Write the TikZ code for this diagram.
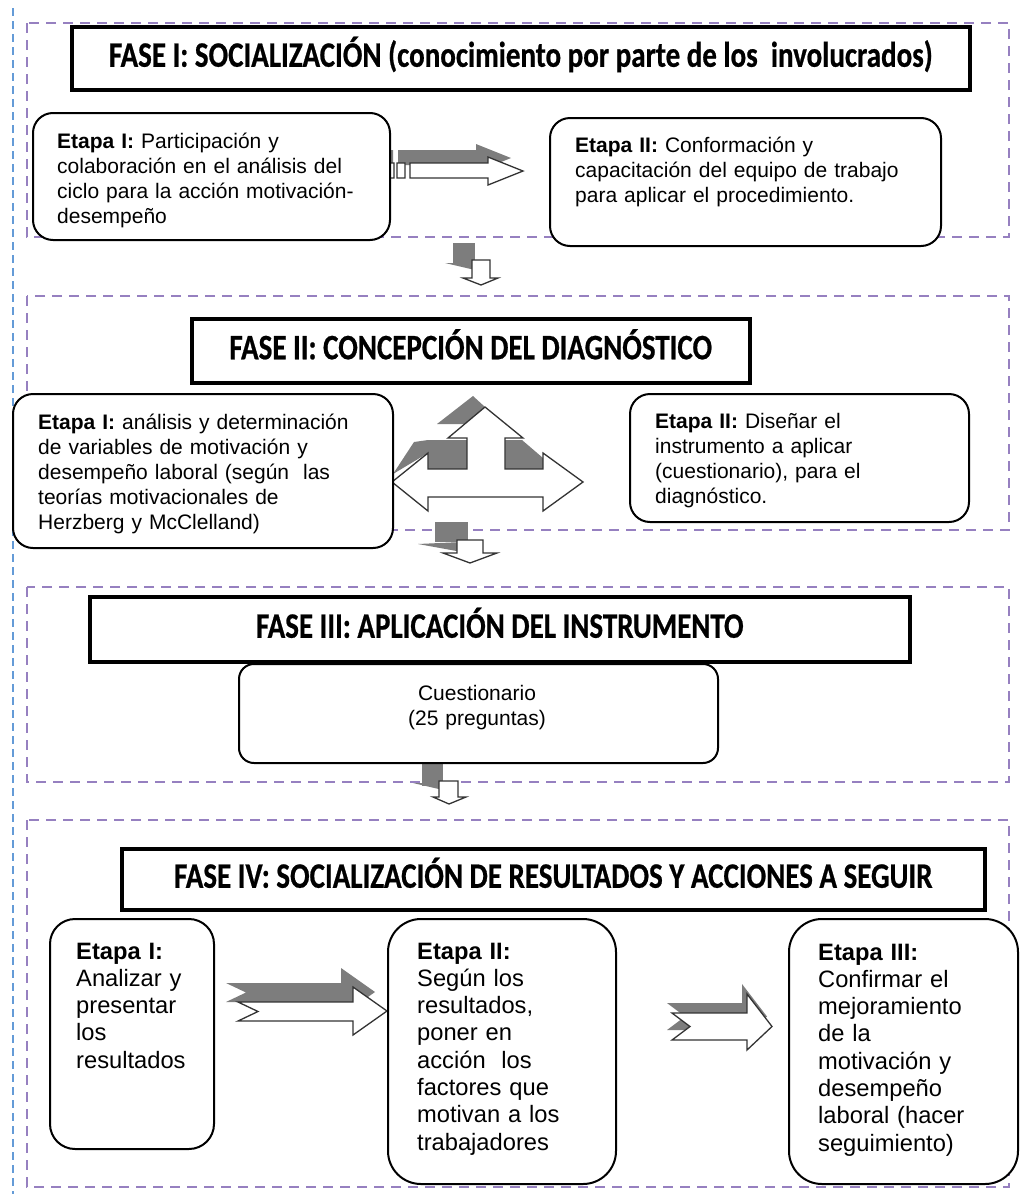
\documentclass[tikz,border=0pt]{standalone}
\usepackage{fontspec}
\setmainfont{Liberation Sans}
\newfontfamily\titlefont{Carlito}[FakeStretch=0.81,FakeBold=0.6]

\definecolor{phaseline}{RGB}{150,128,192}
\definecolor{marginline}{RGB}{100,155,215}
\definecolor{shadowgray}{RGB}{125,125,125}

\tikzset{
  % striped right arrow between the two stages of phase I
  pics/stripearrow/.style={code={
    \path[pic actions] (410,163) -- (488,163) -- (488,157) -- (523,171) -- (488,185) -- (488,178) -- (410,178) -- cycle
      (389,163) rectangle (394,178) (397,163) rectangle (405,178);
  }},
  % notched right arrows of phase IV
  pics/notcharrowA/.style={code={
    \path[pic actions] (238,1002) -- (353,1002) -- (353,987) -- (387,1011) -- (353,1035) -- (353,1021) -- (238,1021) -- (258,1011.5) -- cycle;
  }},
  pics/notcharrowB/.style={code={
    \path[pic actions] (672,1013) -- (747,1013) -- (747,994) -- (772,1026.5) -- (747,1050) -- (747,1040) -- (672,1040) -- (690,1026.5) -- cycle;
  }},
}

\begin{document}
\begin{tikzpicture}[x=1pt,y=-1pt,
  phase/.style={draw=phaseline, line width=2.5pt, dash pattern=on 10pt off 7pt},
  title/.style={draw=black, line width=3.5pt, fill=white, inner sep=0pt, anchor=north west,
    text height=22pt, text depth=5pt,
    font=\titlefont\bfseries\fontsize{35.8}{40}\selectfont},
  stage/.style={draw=black, line width=2pt, fill=white, rounded corners=20pt, inner sep=0pt, anchor=north west},
  body/.style={inner sep=0pt, anchor=base west, align=left, text width=380pt,
    font=\fontsize{21}{25}\selectfont},
  bigbody/.style={inner sep=0pt, anchor=base west, align=left, text width=220pt,
    font=\fontsize{23.7}{27.3}\selectfont},
  shadowfill/.style={fill=shadowgray, draw=none},
  arrowwhite/.style={fill=white, draw=black!80, line width=1.3pt, line join=miter},
]
\fill[white] (0,0) rectangle (1024,1194);
\useasboundingbox (0,0) rectangle (1024,1194);

% left margin line
\draw[marginline, line width=2pt, dash pattern=on 8pt off 5pt] (13,8) -- (13,1194);

% phase frames
\draw[phase] (27,23) rectangle (1009,237);
\draw[phase] (27,296) rectangle (1009,530);
\draw[phase] (27,587) rectangle (1009,782);
\draw[phase] (27,820) rectangle (1009,1187);

% ---------- block arrows ----------
% phase I: striped arrow
\pic[shadowfill] at (-12,-13) {stripearrow};
\pic[arrowwhite] at (0,0) {stripearrow};

% down arrow I -> II
\fill[shadowgray] (453,243) rectangle (475,265);
\fill[shadowgray] (445,263) -- (475,263) -- (475,270) -- cycle;
\draw[arrowwhite] (472,260) -- (490,260) -- (490,278) -- (498,278) -- (481,285) -- (463,278) -- (472,278) -- cycle;

% phase II: left-right-up arrow
\fill[shadowgray] (437,424) -- (473,396) -- (485,407) -- (465,424) -- cycle;
\fill[shadowgray] (428,440) rectangle (467,469);
\fill[shadowgray] (505,440) -- (522,440) -- (543,458) -- (543,469) -- (505,469) -- cycle;
\fill[shadowgray] (393,474) -- (414,442) -- (428,440) -- (428,453) -- cycle;
\draw[arrowwhite] (392,482) -- (428,453) -- (428,469) -- (467,469) -- (467,438) -- (448,438) -- (485,407)
  -- (523,438) -- (505,438) -- (505,469) -- (543,469) -- (543,453) -- (583,482) -- (543,511)
  -- (543,497) -- (428,497) -- (428,511) -- cycle;

% down arrow II -> III
\fill[shadowgray] (435,522) rectangle (468,542);
\fill[shadowgray] (418,544) -- (462,542) -- (462,552) -- cycle;
\draw[arrowwhite] (457,540) -- (483,540) -- (483,553) -- (497,553) -- (470,563) -- (443,553) -- (457,553) -- cycle;

% down arrow III -> IV
\fill[shadowgray] (422,762) rectangle (443,786);
\fill[shadowgray] (413,783) -- (443,783) -- (443,790) -- cycle;
\draw[arrowwhite] (439,781) -- (458,781) -- (458,797) -- (466,797) -- (449,804) -- (433,797) -- (439,797) -- cycle;

% phase IV: notched arrows
\pic[shadowfill] at (-12,-19) {notcharrowA};
\pic[arrowwhite] at (0,0) {notcharrowA};
\pic[shadowfill] at (-5,-10) {notcharrowB};
\pic[arrowwhite] at (0,0) {notcharrowB};

% ---------- phase titles ----------
\node[title, minimum width=898pt, minimum height=63pt] (t1) at (70,25)
  {FASE I: SOCIALIZACIÓN (conocimiento por parte de los\ \ involucrados)};
\node[title, minimum width=558pt, minimum height=64pt] (t2) at (190,317)
  {FASE II: CONCEPCIÓN DEL DIAGNÓSTICO};
\node[title, minimum width=820pt, minimum height=65pt] (t3) at (88,595)
  {FASE III: APLICACIÓN DEL INSTRUMENTO};
\node[title, minimum width=863pt, minimum height=61pt] (t4) at (120,847)
  {FASE IV: SOCIALIZACIÓN DE RESULTADOS Y ACCIONES A SEGUIR};

% ---------- stage boxes ----------
\node[stage, minimum width=357pt, minimum height=127pt] (e1a) at (32,112) {};
\node[stage, minimum width=391pt, minimum height=128pt] (e1b) at (549,117) {};
\node[stage, minimum width=380pt, minimum height=154pt] (e2a) at (12,393) {};
\node[stage, minimum width=339pt, minimum height=128pt] (e2b) at (629,393) {};
\node[stage, rounded corners=15pt, minimum width=479pt, minimum height=99pt] (q) at (238,663) {};
\node[stage, rounded corners=25pt, minimum width=164pt, minimum height=230pt] (e4a) at (49,918) {};
\node[stage, rounded corners=33pt, minimum width=228pt, minimum height=265pt] (e4b) at (387,918) {};
\node[stage, rounded corners=33pt, minimum width=229pt, minimum height=265pt] (e4c) at (788,918) {};

% ---------- stage texts ----------
\node[body] (e1at) at (57,148) {\textbf{Etapa I:} Participación y\\colaboración en el análisis del\\ciclo para la acción motivación-\\desempeño};
\node[body] (e1bt) at (575,152) {\textbf{Etapa II:} Conformación y\\capacitación del equipo de trabajo\\para aplicar el procedimiento.};
\node[body] (e2at) at (38,429) {\textbf{Etapa I:} análisis y determinación\\de variables de motivación y\\desempeño laboral (según\ \ las\\teorías motivacionales de\\Herzberg y McClelland)};
\node[body] (e2bt) at (655,428) {\textbf{Etapa II:} Diseñar el\\instrumento a aplicar\\(cuestionario), para el\\diagnóstico.};
\node[body, anchor=base, align=center, text width=300pt] (qt) at (477,700) {Cuestionario\\(25 preguntas)};
\node[bigbody] (e4at) at (76,959) {\textbf{Etapa I:}\\Analizar y\\presentar\\los\\resultados};
\node[bigbody] (e4bt) at (417,959) {\textbf{Etapa II:}\\Según los\\resultados,\\poner en\\acción\ \ los\\factores que\\motivan a los\\trabajadores};
\node[bigbody] (e4ct) at (818,960) {\textbf{Etapa III:}\\Confirmar el\\mejoramiento\\de la\\motivación y\\desempeño\\laboral (hacer\\seguimiento)};
\end{tikzpicture}
\end{document}
